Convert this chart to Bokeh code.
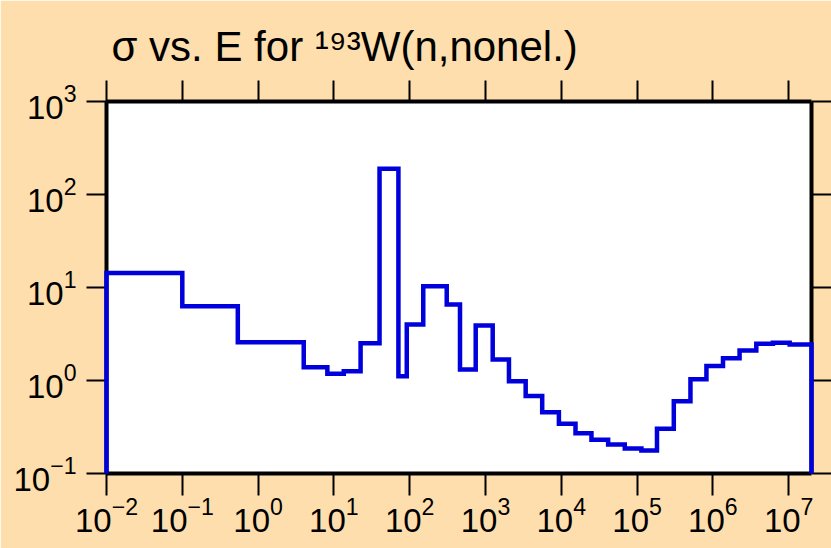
from bokeh.plotting import figure
from bokeh.models import LogAxis, FixedTicker, Title, CustomJSTickFormatter
from bokeh.embed import file_html
from bokeh.resources import INLINE

# ---- data ----
energy_edges = [0.01, 0.1, 0.54, 4.0, 8.2, 13.5, 22.5, 40.0, 71.0, 91.5,
                151.0, 308.0, 461.0, 743.0, 1245.0, 2040.0, 3390.0, 5600.0, 9300.0, 15400.0,
                25000.0, 41500.0, 68800.0, 114000.0, 183000.0, 305000.0, 506000.0, 822000.0,
                1.36e6, 2.25e6, 3.74e6, 6.2e6, 1.03e7, 2.0e7]
cross_section = [14.3, 6.3, 2.58, 1.39, 1.18, 1.26, 2.52, 189.0, 1.11, 4.0,
                 10.3, 6.56, 1.31, 3.9, 1.68, 0.98, 0.68, 0.456, 0.342, 0.271,
                 0.23, 0.205, 0.186, 0.177, 0.303, 0.598, 1.03, 1.43, 1.74, 2.10,
                 2.48, 2.54, 2.44]
x_ticks = [1e-2, 1e-1, 1e0, 1e1, 1e2, 1e3, 1e4, 1e5, 1e6, 1e7]
y_ticks = [1e-1, 1e0, 1e1, 1e2, 1e3]
x_limits = (0.01, 2.0e7)
y_limits = (0.1, 1000.0)
title_text = "\u03c3 vs. E for \u00b9\u2079\u00b3W(n,nonel.)"

BG = "#FFDEAD"
FONT = "Liberation Sans"

p = figure(width=831, height=548, x_axis_type="log", y_axis_type="log",
           x_range=x_limits, y_range=y_limits,
           output_backend="svg", toolbar_location=None,
           min_border_left=106, min_border_right=20, min_border_top=101, min_border_bottom=75,
           background_fill_color="white", border_fill_color=BG)
p.grid.visible = False
p.outline_line_color = None

# step path built from the bin edges / values
xs = [energy_edges[0]]
ys = [y_limits[0]]
for i, v in enumerate(cross_section):
    xs += [energy_edges[i], energy_edges[i + 1]]
    ys += [v, v]
xs.append(energy_edges[-1])
ys.append(y_limits[0])
r = p.line(xs, ys, line_color="#0000dd", line_width=4.5, line_join="miter")
r.level = "overlay"

def style(ax, ticks, labels):
    ax.ticker = FixedTicker(ticks=ticks)
    ax.axis_line_color = "black"
    ax.axis_line_width = 4
    ax.major_tick_in = 0
    ax.major_tick_line_color = "black"
    ax.major_tick_line_width = 2
    ax.minor_tick_line_color = None
    ax.major_label_text_font = FONT
    ax.major_label_text_font_size = "33px"
    ax.major_label_text_color = "black"
    if not labels:
        ax.formatter = CustomJSTickFormatter(code="return ''")
        ax.major_label_standoff = 0

style(p.xaxis[0], x_ticks, True)
p.xaxis[0].major_tick_out = 22
p.xaxis[0].major_label_standoff = 1
style(p.yaxis[0], y_ticks, True)
p.yaxis[0].major_tick_out = 20
p.yaxis[0].major_label_standoff = 10

top = LogAxis()
style(top, x_ticks, False)
top.major_tick_out = 21
p.add_layout(top, "above")
right = LogAxis()
style(right, y_ticks, False)
right.major_tick_out = 20
p.add_layout(right, "right")

p.add_layout(Title(text=title_text, align="left", offset=5, standoff=22,
                   text_font=FONT, text_font_size="42px", text_font_style="normal",
                   text_color="black"), "above")

html = file_html(p, INLINE)
html = html.replace("<body>", '<body style="background-color: %s;">' % BG, 1)
open("out.html", "w").write(html)
